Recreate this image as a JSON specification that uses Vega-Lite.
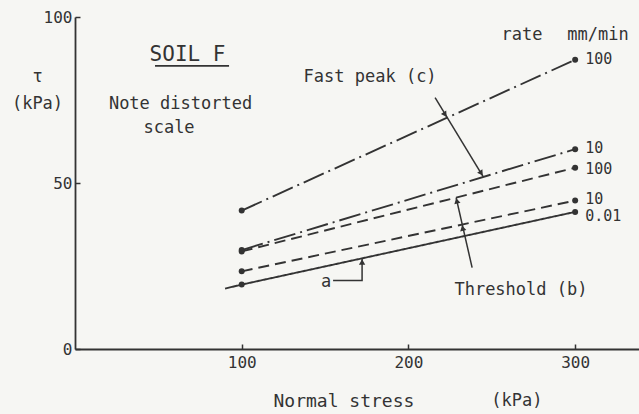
{
  "$schema": "https://vega.github.io/schema/vega-lite/v6.json",
  "width": 564,
  "height": 332,
  "autosize": {"type": "none"},
  "padding": {"left": 75, "top": 17, "right": 0, "bottom": 65},
  "background": "#f6f6f3",
  "config": {
    "view": {"stroke": null},
    "font": "DejaVu Sans Mono",
    "axis": {
      "grid": false,
      "domainColor": "#333333",
      "domainWidth": 1.8,
      "tickColor": "#333333",
      "tickWidth": 1.5,
      "tickSize": -5,
      "labelFont": "DejaVu Sans Mono",
      "labelFontSize": 16,
      "labelColor": "#333333",
      "titleFont": "DejaVu Sans Mono",
      "titleFontWeight": "normal",
      "titleColor": "#333333"
    }
  },
  "datasets": {
    "lines": [
      {"kind": "Fast peak", "rate": "100", "stress": 100, "tau": 41.7},
      {"kind": "Fast peak", "rate": "100", "stress": 300, "tau": 87.1},
      {"kind": "Fast peak", "rate": "10", "stress": 100, "tau": 29.8},
      {"kind": "Fast peak", "rate": "10", "stress": 300, "tau": 60.2},
      {"kind": "Threshold", "rate": "100", "stress": 100, "tau": 29.4},
      {"kind": "Threshold", "rate": "100", "stress": 300, "tau": 54.6},
      {"kind": "Threshold", "rate": "10", "stress": 100, "tau": 23.4},
      {"kind": "Threshold", "rate": "10", "stress": 300, "tau": 44.7},
      {"kind": "a", "rate": "0.01", "stress": 90, "tau": 18.2},
      {"kind": "a", "rate": "0.01", "stress": 100, "tau": 19.4},
      {"kind": "a", "rate": "0.01", "stress": 300, "tau": 41.3}
    ],
    "arrows": [
      {"id": "c", "step": 1, "stress": 216.0, "tau": 75.7},
      {"id": "c", "step": 2, "stress": 244.8, "tau": 51.9},
      {"id": "b", "step": 1, "stress": 238.2, "tau": 24.5},
      {"id": "b", "step": 2, "stress": 228.6, "tau": 45.6},
      {"id": "a", "step": 1, "stress": 154.8, "tau": 20.6},
      {"id": "a", "step": 2, "stress": 172.2, "tau": 20.6},
      {"id": "a", "step": 3, "stress": 172.2, "tau": 27.2}
    ],
    "heads": [
      {"id": "c", "stress": 222.0, "tau": 70.6},
      {"id": "c", "stress": 243.7, "tau": 52.95},
      {"id": "b", "stress": 229.0, "tau": 44.6},
      {"id": "b", "stress": 232.5, "tau": 36.4},
      {"id": "a", "stress": 172.2, "tau": 26.2}
    ],
    "notes": [
      {"text": "Fast peak (c)", "stress": 177.0, "tau": 82.0},
      {"text": "Note distorted", "stress": 63.3, "tau": 73.9},
      {"text": "scale", "stress": 56.4, "tau": 66.7},
      {"text": "Threshold (b)", "stress": 267.5, "tau": 17.9},
      {"text": "a", "stress": 150.6, "tau": 20.3},
      {"text": "rate", "stress": 268.1, "tau": 94.7},
      {"text": "mm/min", "stress": 313.7, "tau": 94.7},
      {"text": "(kPa)", "stress": 265.1, "tau": -15.6}
    ],
    "title": [
      {"text": "SOIL F", "stress": 67.5, "tau": 88.6, "from": 48.0, "to": 92.4, "under": 85.3}
    ]
  },
  "layer": [
    {
      "mark": {"type": "rule", "color": "#333333", "strokeWidth": 1.8},
      "encoding": {"y": {"datum": 100, "type": "quantitative", "scale": {"domain": [0, 100]}}}
    },
    {
      "data": {"name": "lines"},
      "mark": {"type": "line", "color": "#333333", "strokeWidth": 1.9},
      "encoding": {
        "x": {"field": "stress", "type": "quantitative", "scale": {"domain": [0, 338.3], "nice": false, "zero": false},
          "axis": {"values": [100, 200, 300], "title": "Normal stress", "titleFontSize": 18, "titleAlign": "left", "titleAnchor": null, "titleX": 198, "titleY": 52, "titleBaseline": "middle", "labelPadding": 10}},
        "y": {"field": "tau", "type": "quantitative", "scale": {"domain": [0, 100], "nice": false},
          "axis": {"values": [0, 50, 100], "title": ["τ", "(kPa)"], "titleFontSize": 17, "titleAngle": 0, "titleAlign": "center", "titleBaseline": "middle", "titleLineHeight": 27, "titleX": -38, "titleY": 59.5, "labelPadding": 8}},
        "detail": [{"field": "kind"}, {"field": "rate"}],
        "strokeDash": {"field": "kind", "type": "nominal", "legend": null,
          "scale": {"domain": ["Fast peak", "Threshold", "a"], "range": [[22, 5, 2, 5], [11, 6], [1, 0]]}}
      }
    },
    {
      "data": {"name": "lines"},
      "transform": [{"filter": "datum.stress >= 100"}],
      "mark": {"type": "point", "filled": true, "color": "#333333", "size": 36, "opacity": 1},
      "encoding": {
        "x": {"field": "stress", "type": "quantitative"},
        "y": {"field": "tau", "type": "quantitative"}
      }
    },
    {
      "data": {"name": "lines"},
      "transform": [{"filter": "datum.stress == 300 && datum.kind == 'Fast peak'"}],
      "mark": {"type": "text", "align": "left", "baseline": "middle", "dx": 10, "dy": -1, "fontSize": 15, "color": "#333333", "font": "DejaVu Sans Mono"},
      "encoding": {
        "x": {"field": "stress", "type": "quantitative"},
        "y": {"field": "tau", "type": "quantitative"},
        "text": {"field": "rate"}
      }
    },
    {
      "data": {"name": "lines"},
      "transform": [{"filter": "datum.stress == 300 && datum.kind == 'Threshold' && datum.rate == '100'"}],
      "mark": {"type": "text", "align": "left", "baseline": "middle", "dx": 10, "dy": 1, "fontSize": 15, "color": "#333333", "font": "DejaVu Sans Mono"},
      "encoding": {
        "x": {"field": "stress", "type": "quantitative"},
        "y": {"field": "tau", "type": "quantitative"},
        "text": {"field": "rate"}
      }
    },
    {
      "data": {"name": "lines"},
      "transform": [{"filter": "datum.stress == 300 && datum.kind == 'Threshold' && datum.rate == '10'"}],
      "mark": {"type": "text", "align": "left", "baseline": "middle", "dx": 10, "dy": -2, "fontSize": 15, "color": "#333333", "font": "DejaVu Sans Mono"},
      "encoding": {
        "x": {"field": "stress", "type": "quantitative"},
        "y": {"field": "tau", "type": "quantitative"},
        "text": {"field": "rate"}
      }
    },
    {
      "data": {"name": "lines"},
      "transform": [{"filter": "datum.stress == 300 && datum.kind == 'a'"}],
      "mark": {"type": "text", "align": "left", "baseline": "middle", "dx": 10, "dy": 4, "fontSize": 15, "color": "#333333", "font": "DejaVu Sans Mono"},
      "encoding": {
        "x": {"field": "stress", "type": "quantitative"},
        "y": {"field": "tau", "type": "quantitative"},
        "text": {"field": "rate"}
      }
    },
    {
      "data": {"name": "arrows"},
      "mark": {"type": "line", "color": "#333333", "strokeWidth": 1.5},
      "encoding": {
        "x": {"field": "stress", "type": "quantitative"},
        "y": {"field": "tau", "type": "quantitative"},
        "detail": {"field": "id"},
        "order": {"field": "step"}
      }
    },
    {
      "data": {"name": "heads"},
      "transform": [{"filter": "datum.id == 'c'"}],
      "mark": {"type": "point", "shape": "triangle-up", "filled": true, "color": "#333333", "size": 40, "angle": 146.5, "opacity": 1},
      "encoding": {"x": {"field": "stress", "type": "quantitative"}, "y": {"field": "tau", "type": "quantitative"}}
    },
    {
      "data": {"name": "heads"},
      "transform": [{"filter": "datum.id == 'b'"}],
      "mark": {"type": "point", "shape": "triangle-up", "filled": true, "color": "#333333", "size": 40, "angle": -13.4, "opacity": 1},
      "encoding": {"x": {"field": "stress", "type": "quantitative"}, "y": {"field": "tau", "type": "quantitative"}}
    },
    {
      "data": {"name": "heads"},
      "transform": [{"filter": "datum.id == 'a'"}],
      "mark": {"type": "point", "shape": "triangle-up", "filled": true, "color": "#333333", "size": 40, "opacity": 1},
      "encoding": {"x": {"field": "stress", "type": "quantitative"}, "y": {"field": "tau", "type": "quantitative"}}
    },
    {
      "data": {"name": "notes"},
      "mark": {"type": "text", "align": "center", "baseline": "middle", "fontSize": 17, "color": "#333333", "font": "DejaVu Sans Mono"},
      "encoding": {
        "x": {"field": "stress", "type": "quantitative"},
        "y": {"field": "tau", "type": "quantitative"},
        "text": {"field": "text"}
      }
    },
    {
      "data": {"name": "title"},
      "mark": {"type": "text", "align": "center", "baseline": "middle", "fontSize": 21, "color": "#333333", "font": "DejaVu Sans Mono"},
      "encoding": {
        "x": {"field": "stress", "type": "quantitative"},
        "y": {"field": "tau", "type": "quantitative"},
        "text": {"field": "text"}
      }
    },
    {
      "data": {"name": "title"},
      "mark": {"type": "rule", "color": "#333333", "strokeWidth": 1.8},
      "encoding": {
        "x": {"field": "from", "type": "quantitative"},
        "x2": {"field": "to"},
        "y": {"field": "under", "type": "quantitative"}
      }
    }
  ]
}
